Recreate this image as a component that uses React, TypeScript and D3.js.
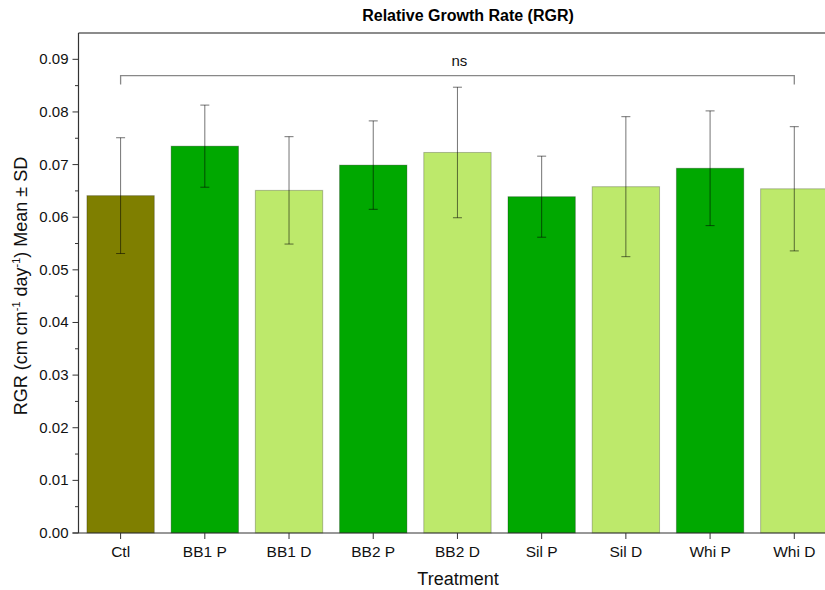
import React from 'react';
import * as d3 from 'd3';

// treatments and values
const treatments = ['Ctl', 'BB1 P', 'BB1 D', 'BB2 P', 'BB2 D', 'Sil P', 'Sil D', 'Whi P', 'Whi D'];
const means = [0.0641, 0.0735, 0.0651, 0.0699, 0.0723, 0.0639, 0.0658, 0.0693, 0.0654];
const sds = [0.0110, 0.0078, 0.0102, 0.0084, 0.0124, 0.0077, 0.0133, 0.0109, 0.0118];
const barColors = ['#7f7f00', '#00a800', '#bde96b', '#00a800', '#bde96b', '#00a800', '#bde96b', '#00a800', '#bde96b'];
const yTicks = [0, 0.01, 0.02, 0.03, 0.04, 0.05, 0.06, 0.07, 0.08, 0.09];
const bracketValue = 0.0869;
const bracketLegValue = 0.0852;

const font = 'Arial, "Liberation Sans", sans-serif';

const App = () => {
  const width = 825;
  const height = 590;
  const margin = { top: 33, left: 78.5, right: 836.4, bottom: 533 };

  const x = d3.scaleBand()
    .domain(treatments)
    .range([margin.left, margin.right])
    .paddingInner(0.2)
    .paddingOuter(0.1);

  const y = d3.scaleLinear().domain([0, 0.095]).range([margin.bottom, margin.top]);

  const minorTicks = d3.range(0.005, 0.095, 0.01);
  const bw = x.bandwidth();
  const center = (t) => (x(t) as number) + bw / 2;
  const capW = 9;

  const first = center(treatments[0]);
  const last = center(treatments[treatments.length - 1]);

  return (
    <svg width={width} height={height} style={{ position: 'absolute', left: 0, top: 0 }}>
      <rect x={0} y={0} width={width} height={height} fill="#fff" />

      {/* bars */}
      {treatments.map((t, i) => (
        <rect
          key={t}
          x={x(t)}
          y={y(means[i])}
          width={bw}
          height={y(0) - y(means[i])}
          fill={barColors[i]}
          stroke="rgba(0,0,0,0.25)"
          strokeWidth={1}
        />
      ))}

      {/* error bars */}
      {treatments.map((t, i) => {
        const cx = center(t);
        const top = y(means[i] + sds[i]);
        const bot = y(means[i] - sds[i]);
        return (
          <g key={t} stroke="rgba(0,0,0,0.55)" strokeWidth={1}>
            <line x1={cx} x2={cx} y1={top} y2={bot} />
            <line x1={cx - capW / 2} x2={cx + capW / 2} y1={top} y2={top} />
            <line x1={cx - capW / 2} x2={cx + capW / 2} y1={bot} y2={bot} />
          </g>
        );
      })}

      {/* significance bracket */}
      <path
        d={`M${first},${y(bracketLegValue)}V${y(bracketValue)}H${last}V${y(bracketLegValue)}`}
        fill="none"
        stroke="#888"
        strokeWidth={1.3}
      />
      <text x={(first + last) / 2 + 2} y={y(bracketValue) - 10} textAnchor="middle" fontFamily={font} fontSize={15} fill="#111">ns</text>

      {/* frame */}
      <line x1={margin.left} x2={width} y1={margin.top} y2={margin.top} stroke="#666" strokeWidth={1.5} />
      <line x1={margin.left} x2={margin.left} y1={margin.top} y2={margin.bottom} stroke="#333" strokeWidth={1.2} />
      <line x1={margin.left - 6} x2={width} y1={margin.bottom} y2={margin.bottom} stroke="#333" strokeWidth={1.2} />

      {/* y axis */}
      {yTicks.map((v) => (
        <g key={v}>
          <line x1={margin.left - 6} x2={margin.left} y1={y(v)} y2={y(v)} stroke="#333" strokeWidth={1} />
          <text x={margin.left - 10} y={y(v) + 5} textAnchor="end" fontFamily={font} fontSize={15} fill="#111">
            {d3.format('.2f')(v)}
          </text>
        </g>
      ))}
      {minorTicks.map((v) => (
        <line key={v} x1={margin.left - 3.5} x2={margin.left} y1={y(v)} y2={y(v)} stroke="#333" strokeWidth={1} />
      ))}

      {/* x axis */}
      {treatments.map((t) => (
        <g key={t}>
          <line x1={center(t)} x2={center(t)} y1={margin.bottom} y2={margin.bottom + 6} stroke="#333" strokeWidth={1} />
          <text x={center(t)} y={557} textAnchor="middle" fontFamily={font} fontSize={15.5} fill="#111">{t}</text>
        </g>
      ))}

      {/* titles */}
      <text x={468} y={21} textAnchor="middle" fontFamily={font} fontSize={16} fontWeight="bold" fill="#000">
        Relative Growth Rate (RGR)
      </text>
      <text x={458} y={585} textAnchor="middle" fontFamily={font} fontSize={18} fill="#111">Treatment</text>
      <text
        transform={`translate(27,${(margin.top + margin.bottom) / 2 + 3}) rotate(-90)`}
        textAnchor="middle"
        fontFamily={font}
        fontSize={18}
        fill="#111"
      >
        RGR (cm cm<tspan fontSize={11} dy={-7}>-1</tspan>
        <tspan dy={7}> day</tspan>
        <tspan fontSize={11} dy={-7}>-1</tspan>
        <tspan dy={7}>) Mean ± SD</tspan>
      </text>
    </svg>
  );
};

export default App;
